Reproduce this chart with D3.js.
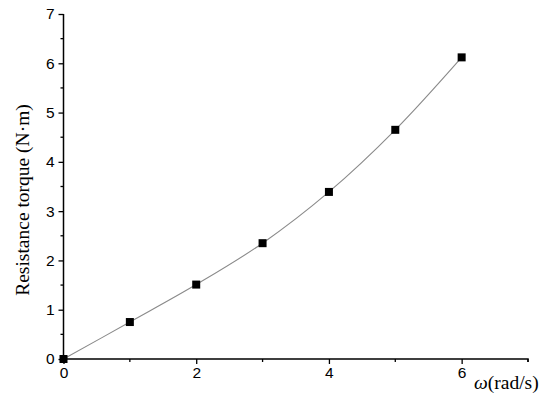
<!DOCTYPE html>
<html><head><meta charset="utf-8">
<script src="https://cdn.jsdelivr.net/npm/d3@7"></script>
<style>body{margin:0;background:#fff}svg{display:block}</style>
</head><body>
<svg id="c" width="550" height="407"></svg>
<script>
const omega = [0, 1, 2, 3, 4, 5, 6];
const torque = [0, 0.75, 1.51, 2.35, 3.39, 4.65, 6.12];
const xTicks = [0, 2, 4, 6];
const xMinor = [1, 3, 5, 7];
const yTicks = [0, 1, 2, 3, 4, 5, 6, 7];
const yMinor = [0.5, 1.5, 2.5, 3.5, 4.5, 5.5, 6.5];

const svg = d3.select("#c");
const x = d3.scaleLinear().domain([0, 7]).range([63.5, 528]);
const y = d3.scaleLinear().domain([0, 7]).range([359, 14]);

const tickFont = "'Liberation Sans', Arial, sans-serif";
const titleFont = "'Liberation Serif', 'Times New Roman', serif";

// x axis
const gx = svg.append("g").attr("transform", `translate(0,${y(0)})`);
gx.call(d3.axisBottom(x).tickValues(xTicks).tickSize(5).tickPadding(3).tickFormat(d3.format("d")));
gx.append("g").selectAll("line").data(xMinor).join("line")
  .attr("x1", d => x(d)).attr("x2", d => x(d)).attr("y1", 0).attr("y2", 3)
  .attr("stroke", "#000").attr("stroke-width", 1.3);
// y axis
const gy = svg.append("g").attr("transform", `translate(${x(0)},0)`);
gy.call(d3.axisLeft(y).tickValues(yTicks).tickSize(5).tickPadding(4).tickFormat(d3.format("d")));
gy.append("g").selectAll("line").data(yMinor).join("line")
  .attr("y1", d => y(d)).attr("y2", d => y(d)).attr("x1", 0).attr("x2", -3)
  .attr("stroke", "#000").attr("stroke-width", 1.3);

[gx, gy].forEach(g => {
  g.select(".domain").attr("stroke", "#000").attr("stroke-width", 1.5);
  g.selectAll(".tick line").attr("stroke", "#000").attr("stroke-width", 1.3);
  g.selectAll(".tick text").attr("font-family", tickFont).attr("font-size", 15.5).attr("fill", "#000");
});
gx.select(".domain").attr("d", `M${x(0)},0H${x(7)}V3`);
gy.select(".domain").attr("d", `M0,${y(0)}V${y(7)}`);

// line
const pts = omega.map((d, i) => [d, torque[i]]);
svg.append("path").datum(pts)
  .attr("d", d3.line().x(d => x(d[0])).y(d => y(d[1])).curve(d3.curveCatmullRom))
  .attr("fill", "none").attr("stroke", "#8a8a8a").attr("stroke-width", 1.1);

// markers
svg.append("g").selectAll("rect").data(pts).join("rect")
  .attr("x", d => x(d[0]) - 4).attr("y", d => y(d[1]) - 4)
  .attr("width", 8).attr("height", 8).attr("fill", "#000");

// titles
const xt = svg.append("text").attr("x", 474).attr("y", 389)
  .attr("font-family", titleFont).attr("font-size", 19.5).attr("fill", "#000");
xt.append("tspan").attr("font-style", "italic").text("ω");
xt.append("tspan").text("(rad/s)");

svg.append("text").attr("transform", "translate(29,200) rotate(-90)")
  .attr("text-anchor", "middle").attr("font-family", titleFont).attr("font-size", 19.5)
  .attr("fill", "#000").text("Resistance torque (N·m)");
</script>
</body></html>
